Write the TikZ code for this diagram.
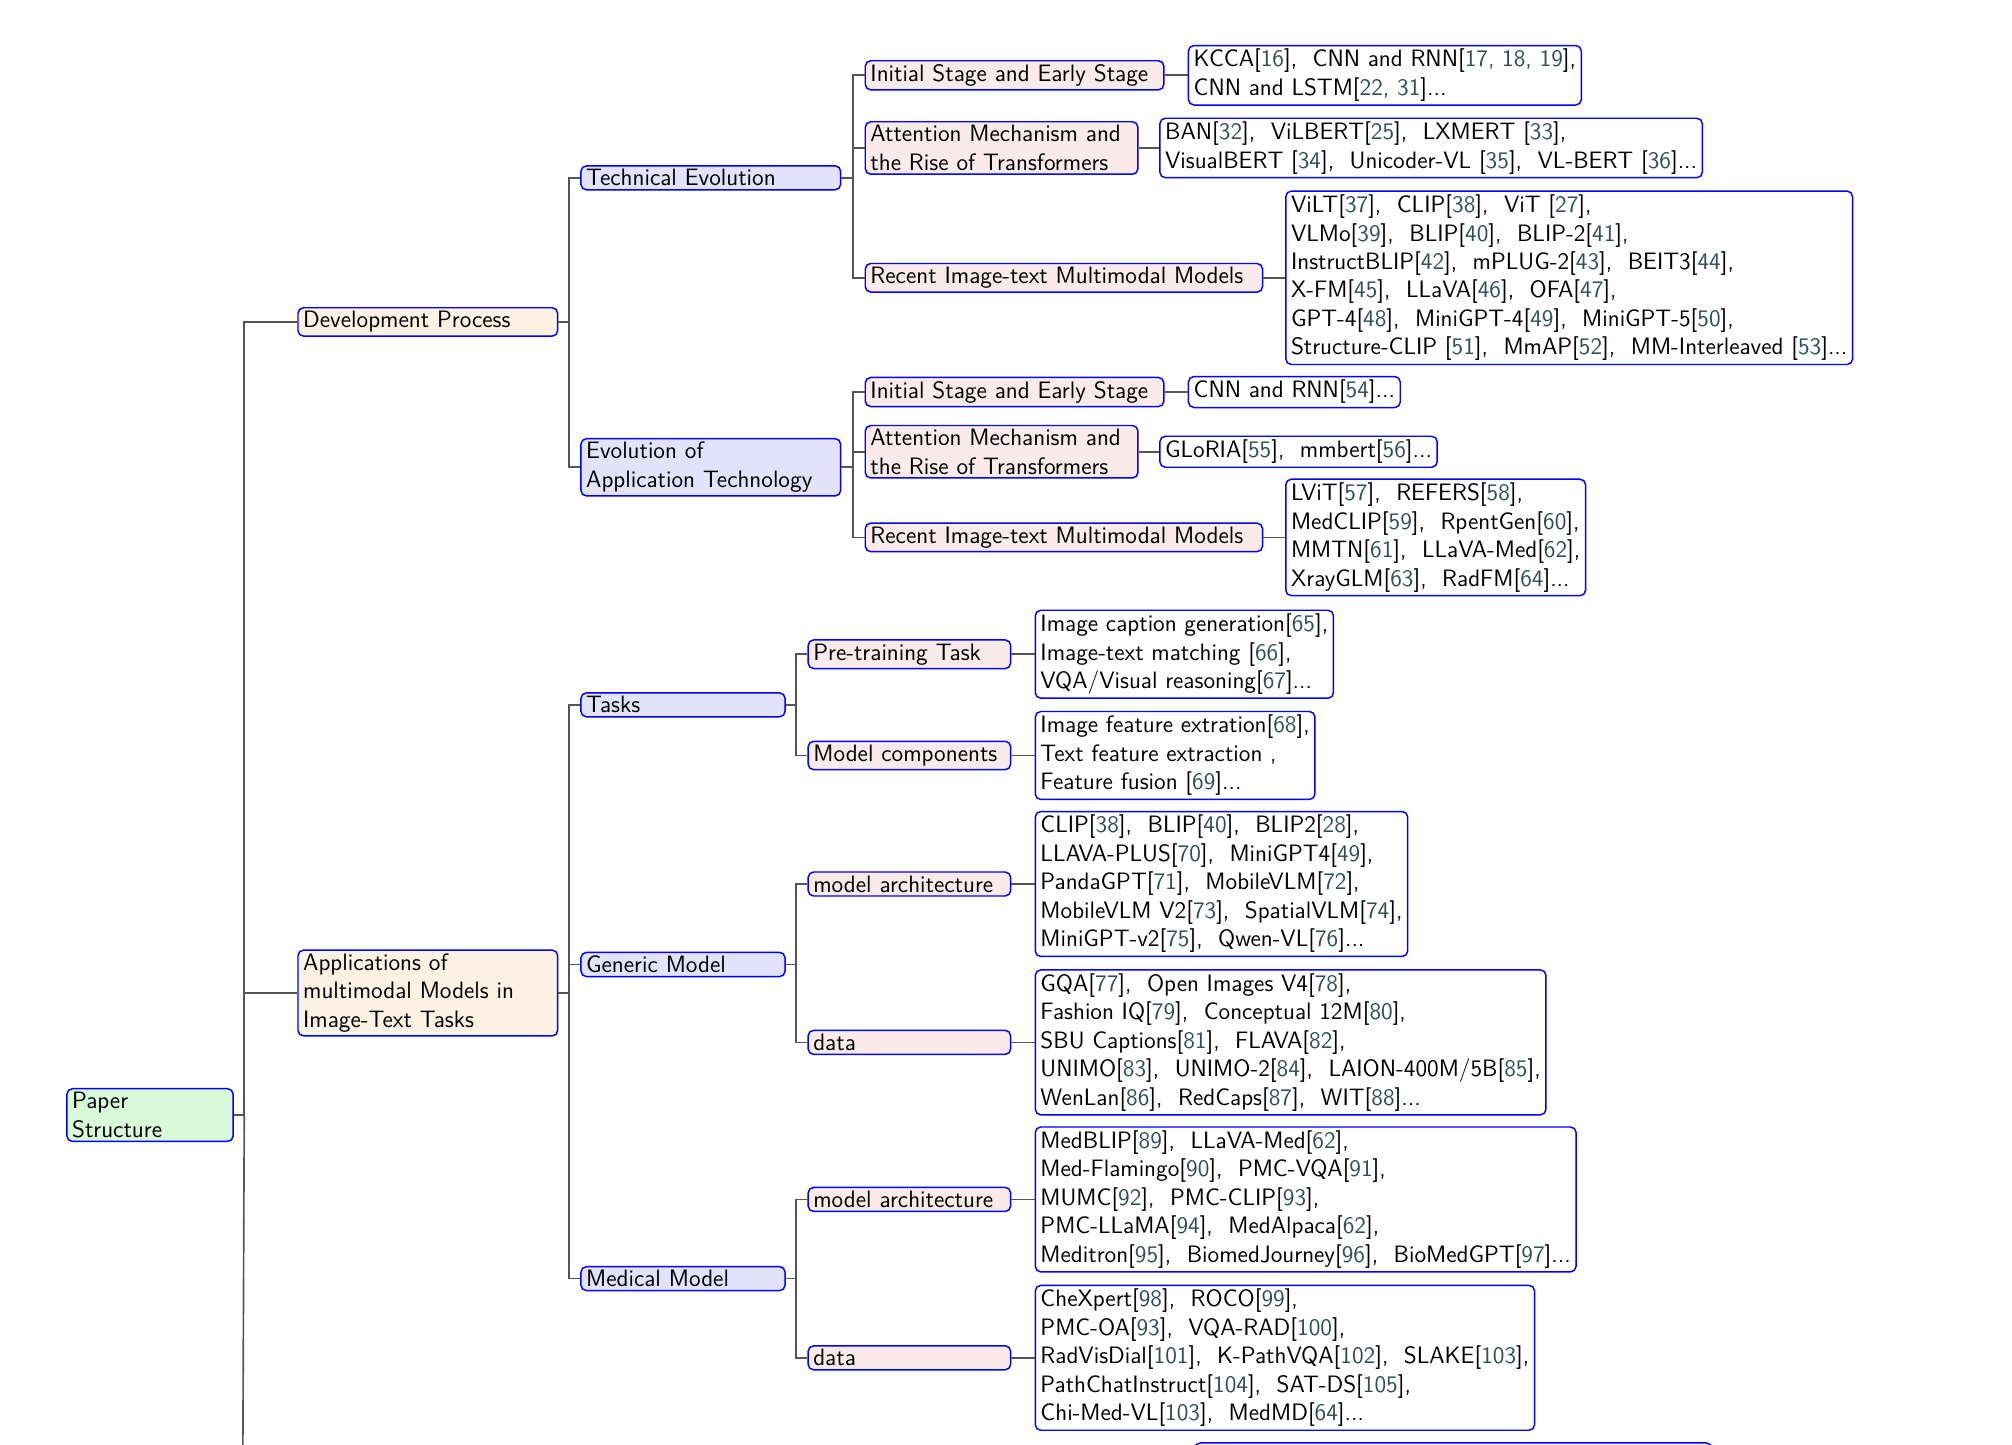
\documentclass[tikz,border=0pt]{standalone}
\usepackage{xcolor}
\usetikzlibrary{positioning}
\definecolor{citec}{HTML}{2F5050}
\definecolor{rootc}{HTML}{D8FAD8}
\definecolor{lonec}{HTML}{FDF1E3}
\definecolor{ltwoc}{HTML}{E2E2FA}
\definecolor{lthreec}{HTML}{FBEAEA}
\definecolor{linkc}{HTML}{555555}
\newcommand{\rf}[1]{[{\color{citec}#1}]}
\newcommand{\sep}{,\ \ }
\tikzset{
  box/.style={draw=blue, thick, rounded corners=3pt, anchor=west, align=left,
    inner xsep=0.1cm, inner ysep=0.07cm, font=\sffamily\fontsize{13}{15.6}\selectfont},
  rootbox/.style={box, fill=rootc, text width=3cm},
  lone/.style={box, fill=lonec, text width=4.8cm},
  ltwo/.style={box, fill=ltwoc, text width=#1},
  lthree/.style={box, fill=lthreec, text width=#1},
  leaf/.style={box, fill=white},
  link/.style={draw=linkc, line width=0.9pt}
}
\begin{document}
\begin{tikzpicture}[x=0.025cm, y=-0.025cm]
  \clip (0,0) rectangle (1550,1113);
  % root and first level
  \node [rootbox] (root) at (51,859) {Paper\\Structure};
  \node [lone] (dev) at (229,248) {Development Process};
  \node [lone] (app) at (229,765) {Applications of\\multimodal Models in\\Image-Text Tasks};
  \coordinate (more) at (187,1140);
  \draw [link] (root.east) -- ++(8,0) |- (dev.west);
  \draw [link] (root.east) -- ++(8,0) |- (app.west);
  \draw [link] (root.east) -- ++(8,0) -- (more);
  % development process
  \node [ltwo=4.8cm] (tech) at (447,137) {Technical Evolution};
  \node [ltwo=4.8cm] (evo) at (447,360) {Evolution of\\Application Technology};
  \draw [link] (dev.east) -- ++(8,0) |- (tech.west);
  \draw [link] (dev.east) -- ++(8,0) |- (evo.west);
  \node [lthree=5.55cm] (techA) at (666,58) {Initial Stage and Early Stage};
  \node [lthree=5.05cm] (techB) at (666,114) {Attention Mechanism and\\the Rise of Transformers};
  \node [lthree=7.45cm] (techC) at (666,214) {Recent Image-text Multimodal Models};
  \foreach \n in {techA,techB,techC}
    \draw [link] (tech.east) -- ++(9,0) |- (\n.west);
  \node [leaf] (techAl) at (915,58) {KCCA\rf{16}\sep CNN and RNN\rf{17, 18, 19},\\CNN and LSTM\rf{22, 31}...};
  \node [leaf] (techBl) at (893,114) {BAN\rf{32}\sep ViLBERT\rf{25}\sep LXMERT \rf{33},\\VisualBERT \rf{34}\sep Unicoder-VL \rf{35}\sep VL-BERT \rf{36}...};
  \node [leaf] (techCl) at (990,214) {ViLT\rf{37}\sep CLIP\rf{38}\sep ViT \rf{27},\\VLMo\rf{39}\sep BLIP\rf{40}\sep BLIP-2\rf{41},\\InstructBLIP\rf{42}\sep mPLUG-2\rf{43}\sep BEIT3\rf{44},\\X-FM\rf{45}\sep LLaVA\rf{46}\sep OFA\rf{47},\\GPT-4\rf{48}\sep MiniGPT-4\rf{49}\sep MiniGPT-5\rf{50},\\Structure-CLIP \rf{51}\sep MmAP\rf{52}\sep MM-Interleaved \rf{53}...};
  \node [lthree=5.55cm] (evoA) at (666,302) {Initial Stage and Early Stage};
  \node [lthree=5.05cm] (evoB) at (666,348) {Attention Mechanism and\\the Rise of Transformers};
  \node [lthree=7.45cm] (evoC) at (666,414) {Recent Image-text Multimodal Models};
  \foreach \n in {evoA,evoB,evoC}
    \draw [link] (evo.east) -- ++(9,0) |- (\n.west);
  \node [leaf] (evoAl) at (915,302) {CNN and RNN\rf{54}...};
  \node [leaf] (evoBl) at (893,348) {GLoRIA\rf{55}\sep mmbert\rf{56}...};
  \node [leaf] (evoCl) at (990,414) {LViT\rf{57}\sep REFERS\rf{58},\\MedCLIP\rf{59}\sep RpentGen\rf{60},\\MMTN\rf{61}\sep LLaVA-Med\rf{62},\\XrayGLM\rf{63}\sep RadFM\rf{64}...};
  \foreach \a in {techA,techB,techC,evoA,evoB,evoC}
    \draw [link] (\a.east) -- (\a l.west);
  % applications
  \node [ltwo=3.73cm] (task) at (447,543) {Tasks};
  \node [ltwo=3.73cm] (gen) at (447,743) {Generic Model};
  \node [ltwo=3.73cm] (med) at (447,985) {Medical Model};
  \foreach \n in {task,gen,med}
    \draw [link] (app.east) -- ++(8,0) |- (\n.west);
  \node [lthree=3.7cm] (taskA) at (622,504) {Pre-training Task};
  \node [lthree=3.7cm] (taskB) at (622,582) {Model components};
  \node [lthree=3.7cm] (genA) at (622,681) {model architecture};
  \node [lthree=3.7cm] (genB) at (622,803) {data};
  \node [lthree=3.7cm] (medA) at (622,924) {model architecture};
  \node [lthree=3.7cm] (medB) at (622,1046) {data};
  \foreach \p/\n in {task/taskA,task/taskB,gen/genA,gen/genB,med/medA,med/medB}
    \draw [link] (\p.east) -- ++(8,0) |- (\n.west);
  \node [leaf] (taskAl) at (797,504) {Image caption generation\rf{65},\\Image-text matching \rf{66},\\VQA/Visual reasoning\rf{67}...};
  \node [leaf] (taskBl) at (797,582) {Image feature extration\rf{68},\\Text feature extraction ,\\Feature fusion \rf{69}...};
  \node [leaf] (genAl) at (797,681) {CLIP\rf{38}\sep BLIP\rf{40}\sep BLIP2\rf{28},\\LLAVA-PLUS\rf{70}\sep MiniGPT4\rf{49},\\PandaGPT\rf{71}\sep MobileVLM\rf{72},\\MobileVLM V2\rf{73}\sep SpatialVLM\rf{74},\\MiniGPT-v2\rf{75}\sep Qwen-VL\rf{76}...};
  \node [leaf] (genBl) at (797,803) {GQA\rf{77}\sep Open Images V4\rf{78},\\Fashion IQ\rf{79}\sep Conceptual 12M\rf{80},\\SBU Captions\rf{81}\sep FLAVA\rf{82},\\UNIMO\rf{83}\sep UNIMO-2\rf{84}\sep LAION-400M/5B\rf{85},\\WenLan\rf{86}\sep RedCaps\rf{87}\sep WIT\rf{88}...};
  \node [leaf] (medAl) at (797,924) {MedBLIP\rf{89}\sep LLaVA-Med\rf{62},\\Med-Flamingo\rf{90}\sep PMC-VQA\rf{91},\\MUMC\rf{92}\sep PMC-CLIP\rf{93},\\PMC-LLaMA\rf{94}\sep MedAlpaca\rf{62},\\Meditron\rf{95}\sep BiomedJourney\rf{96}\sep BioMedGPT\rf{97}...};
  \node [leaf] (medBl) at (797,1046) {CheXpert\rf{98}\sep ROCO\rf{99},\\PMC-OA\rf{93}\sep VQA-RAD\rf{100},\\RadVisDial\rf{101}\sep K-PathVQA\rf{102}\sep SLAKE\rf{103},\\PathChatInstruct\rf{104}\sep SAT-DS\rf{105},\\Chi-Med-VL\rf{103}\sep MedMD\rf{64}...};
  \foreach \a in {taskA,taskB,genA,genB,medA,medB}
    \draw [link] (\a.east) -- (\a l.west);
  % next leaf, cut by the page edge
  \node [leaf, anchor=north west, minimum width=9.95cm, minimum height=2cm] (cut) at (920,1111) {};
\end{tikzpicture}
\end{document}
